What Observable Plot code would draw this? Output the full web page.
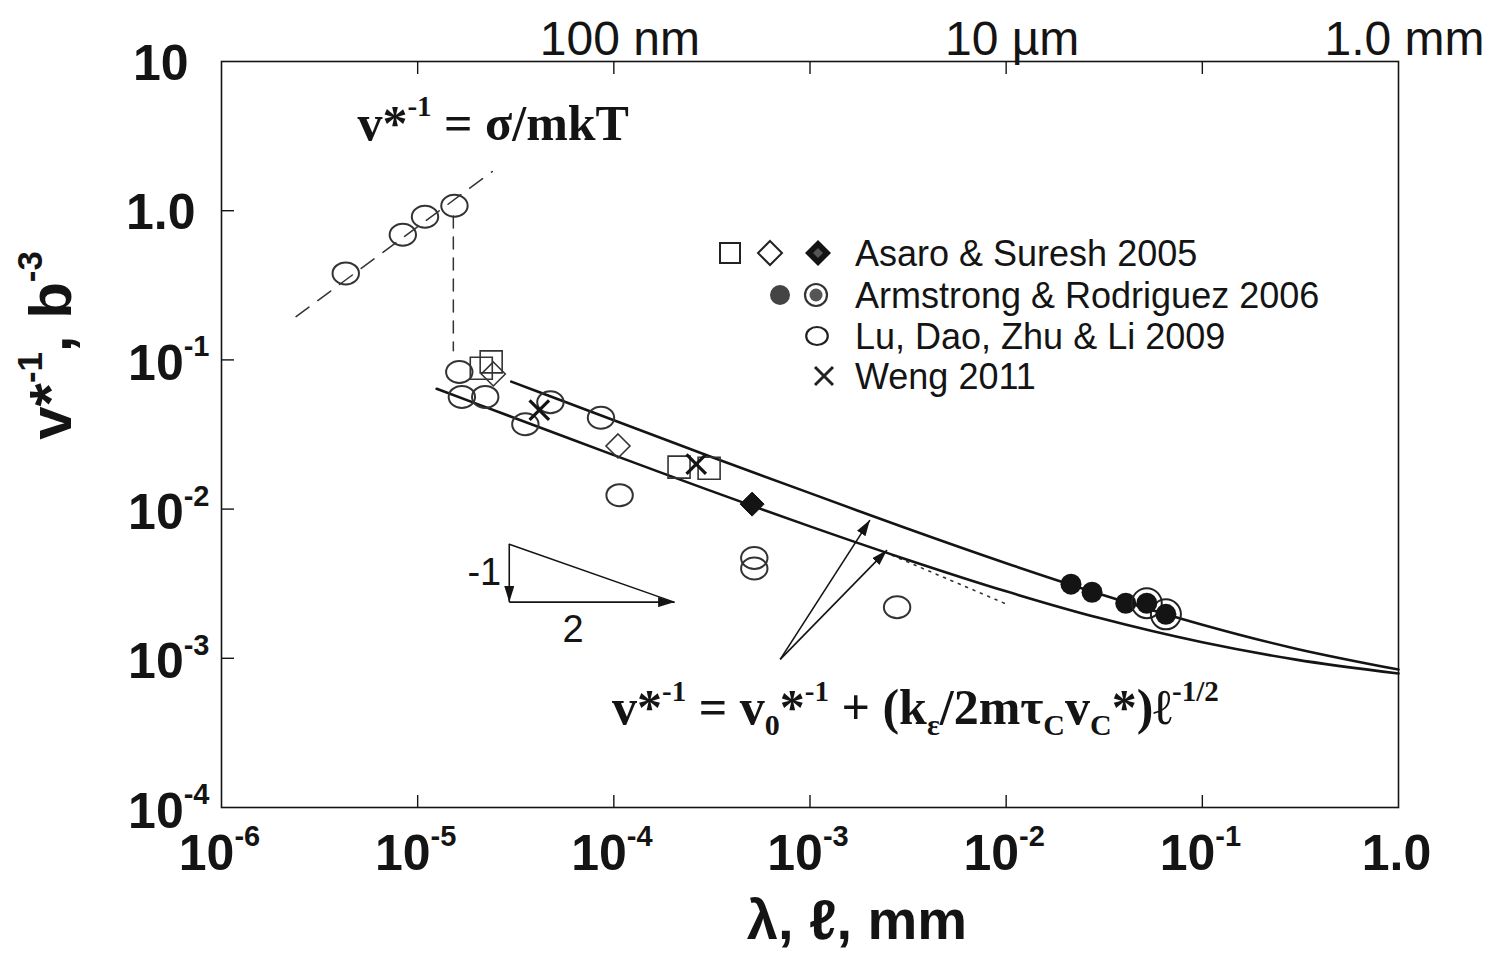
<!DOCTYPE html>
<html><head><meta charset="utf-8">
<script src="https://cdn.jsdelivr.net/npm/d3@7"></script>
<script src="https://cdn.jsdelivr.net/npm/@observablehq/plot@0.6"></script>
<style>html,body{margin:0;padding:0;background:#fff;} #chart{position:relative;width:1497px;height:954px;overflow:hidden;}</style>
</head><body><div id="chart"></div>
<script>
// ---------------- data ----------------
const xTickValues = [1e-6, 1e-5, 1e-4, 1e-3, 1e-2, 1e-1, 1];
const xTickLabels = ["10^{-6}", "10^{-5}", "10^{-4}", "10^{-3}", "10^{-2}", "10^{-1}", "1.0"];
const yTickValues = [10, 1, 1e-1, 1e-2, 1e-3, 1e-4];
const yTickLabels = ["10", "1.0", "10^{-1}", "10^{-2}", "10^{-3}", "10^{-4}"];
const topTickValues = [1e-4, 1e-2, 1];
const topTickLabels = ["100 nm", "10 µm", "1.0 mm"];
const innerTicksX = [1e-5, 1e-4, 1e-3, 1e-2, 1e-1];
const innerTicksY = [1, 1e-1, 1e-2, 1e-3];

// Lu, Dao, Zhu & Li 2009 (open ellipses)
const luX = [4.3e-6, 8.4e-6, 1.09e-5, 1.54e-5, 1.63e-5, 1.68e-5, 2.21e-5, 3.54e-5, 4.75e-5, 8.6e-5, 1.07e-4, 5.2e-4, 5.2e-4, 2.78e-3];
const luY = [0.38, 0.69, 0.91, 1.08, 0.083, 0.0565, 0.0565, 0.037, 0.052, 0.041, 0.0124, 0.0047, 0.0040, 0.0022];
// Asaro & Suresh 2005
const asaroSquareX = [2.11e-5, 2.37e-5, 2.15e-4, 3.06e-4];
const asaroSquareY = [0.088, 0.097, 0.0191, 0.0188];
const asaroDiamondX = [2.43e-5, 1.05e-4];
const asaroDiamondY = [0.0805, 0.0265];
const asaroFilledX = [5.07e-4];
const asaroFilledY = [0.0108];
// Weng 2011
const wengX = [4.17e-5, 2.63e-4];
const wengY = [0.046, 0.020];
// Armstrong & Rodriguez 2006
const armFilledX = [0.0214, 0.0274, 0.0407];
const armFilledY = [0.00314, 0.00277, 0.00234];
const armRingX = [0.0521, 0.0652];
const armRingY = [0.00234, 0.00197];

// model curves
const upperX = [3.0e-5, 5e-5, 1e-4, 3e-4, 1e-3, 3e-3, 1e-2, 3e-2, 1e-1, 3e-1, 1];
const upperY = [0.0715, 0.0555, 0.0394, 0.0229, 0.0128, 0.00756, 0.00434, 0.00270, 0.00168, 0.00116, 0.00084];
const lowerX = [1.25e-5, 3e-5, 1e-4, 3e-4, 1e-3, 3e-3, 1e-2, 3e-2, 1e-1, 3e-1, 1];
const lowerY = [0.0640, 0.0416, 0.0230, 0.0135, 0.00766, 0.00467, 0.00281, 0.00186, 0.00128, 0.00098, 0.00079];
// dashed sigma/mkT line, vertical dashed drop, dotted extension
const riseX = [2.4e-6, 2.4e-5];
const riseY = [0.195, 1.83];
const dropX = [1.52e-5, 1.52e-5];
const dropY = [0.92, 0.115];
const dottedX = [2.62e-3, 1.01e-2];
const dottedY = [4.9e-3, 2.3e-3];
// slope triangle (top, corner, right)
const triX = [2.93e-5, 2.93e-5, 2.03e-4];
const triY = [5.82e-3, 2.38e-3, 2.38e-3];
// leader arrows
const leaderTail = [7.05e-4, 9.84e-4];
const leaderTipX = [2.02e-3, 2.47e-3];
const leaderTipY = [8.44e-3, 5.31e-3];
// annotation texts
const formulaTexts = ["v*^{-1} = σ/mkT", "v*^{-1} = v_{0}*^{-1} + (k_{ε}/2mτ_{C}v_{C}*)ℓ^{-1/2}"];
const formulaX = [4.93e-6, 9.8e-5];
const formulaY = [3.0, 3.6e-4];
const slopeTexts = ["-1", "2"];
const slopeX = [2.93e-5, 6.2e-5];
const slopeY = [3.09e-3, 1.28e-3];
const legendLabels = ["Asaro & Suresh 2005", "Armstrong & Rodriguez 2006", "Lu, Dao, Zhu & Li 2009", "Weng 2011"];

// ---------------- helpers ----------------
const pts = (X, Y) => X.map((x, i) => ({x, y: Y[i]}));
const W = 1497, H = 954, ML = 221, MR = 99, MT = 61, MB = 147;
const FW = W - ML - MR, FH = H - MT - MB;
const SANS = "'Liberation Sans', Arial, sans-serif";
const SERIF = "'Liberation Serif', 'Times New Roman', serif";
const INK = "#141414";

const ellipseSym = {draw(c, size) {
  const r = Math.sqrt(size / Math.PI), rx = r * 1.2, ry = r, k = 0.5523;
  c.moveTo(rx, 0);
  c.bezierCurveTo(rx, ry * k, rx * k, ry, 0, ry);
  c.bezierCurveTo(-rx * k, ry, -rx, ry * k, -rx, 0);
  c.bezierCurveTo(-rx, -ry * k, -rx * k, -ry, 0, -ry);
  c.bezierCurveTo(rx * k, -ry, rx, -ry * k, rx, 0);
  c.closePath();
}};
const squareSym = {draw(c, size) { const r = Math.sqrt(size / Math.PI); c.rect(-r, -r, 2 * r, 2 * r); }};
const diamondSym = {draw(c, size) { const r = Math.sqrt(size / Math.PI); c.moveTo(0, -r); c.lineTo(r, 0); c.lineTo(0, r); c.lineTo(-r, 0); c.closePath(); }};
const crossSym = {draw(c, size) { const r = Math.sqrt(size / Math.PI) * 0.75; c.moveTo(-r, -r); c.lineTo(r, r); c.moveTo(r, -r); c.lineTo(-r, r); }};

const tri = pts(triX, triY);
const arrowSegs = [
  {x1: tri[0].x, y1: tri[0].y, x2: tri[1].x, y2: tri[1].y},
  {x1: tri[1].x, y1: tri[1].y, x2: tri[2].x, y2: tri[2].y},
  ...leaderTipX.map((x, i) => ({x1: leaderTail[0], y1: leaderTail[1], x2: x, y2: leaderTipY[i]}))
];

const tickStyle = {stroke: INK, strokeWidth: 1.4};
const plot = Plot.plot({
  width: W, height: H,
  marginLeft: ML, marginRight: MR, marginTop: MT, marginBottom: MB,
  x: {type: "log", domain: [1e-6, 1], axis: null},
  y: {type: "log", domain: [1e-4, 10], axis: null},
  style: {background: "white", color: INK, fontFamily: SANS},
  marks: [
    Plot.frame({stroke: INK, strokeWidth: 1.6}),
    Plot.tickX(innerTicksX, {x: d => d, insetTop: FH - 12, ...tickStyle}),
    Plot.tickX(innerTicksX, {x: d => d, insetBottom: FH - 13, ...tickStyle}),
    Plot.tickY(innerTicksY, {y: d => d, insetRight: FW - 13, ...tickStyle}),
    // bottom tick labels
    Plot.text(xTickValues, {x: d => d, text: (d, i) => xTickLabels[i], frameAnchor: "bottom", lineAnchor: "bottom", dy: 62, dx: -2,
      textAnchor: "middle", fontFamily: SANS, fontWeight: "bold", fontSize: 50, fill: INK}),
    // left tick labels
    Plot.text(yTickValues, {y: d => d, text: (d, i) => yTickLabels[i], filter: (d, i) => yTickLabels[i].includes("^"),
      frameAnchor: "left", lineAnchor: "bottom", dy: 20, dx: -12, textAnchor: "end", fontFamily: SANS, fontWeight: "bold", fontSize: 50, fill: INK}),
    Plot.text(yTickValues, {y: d => d, text: (d, i) => yTickLabels[i], filter: (d, i) => yTickLabels[i] === "10",
      frameAnchor: "left", lineAnchor: "bottom", dy: 18, dx: -33, textAnchor: "end", fontFamily: SANS, fontWeight: "bold", fontSize: 50, fill: INK}),
    Plot.text(yTickValues, {y: d => d, text: (d, i) => yTickLabels[i], filter: (d, i) => yTickLabels[i] === "1.0",
      frameAnchor: "left", lineAnchor: "bottom", dy: 18, dx: -26, textAnchor: "end", fontFamily: SANS, fontWeight: "bold", fontSize: 50, fill: INK}),
    // top unit labels
    Plot.text(topTickValues, {x: d => d, text: (d, i) => topTickLabels[i], frameAnchor: "top", lineAnchor: "bottom", dy: -7, dx: 6,
      textAnchor: "middle", fontFamily: SANS, fontSize: 48, fill: INK}),
    // axis titles
    Plot.text(["λ, ℓ, mm"], {frameAnchor: "bottom", lineAnchor: "bottom", dy: 131, dx: 47, textAnchor: "middle",
      fontFamily: SANS, fontWeight: "bold", fontSize: 56, fill: INK}),
    Plot.text(["v*^{-1}, b^{-3}"], {frameAnchor: "left", rotate: -90, lineAnchor: "bottom", dx: -151, dy: -89, textAnchor: "middle",
      fontFamily: SANS, fontWeight: "bold", fontSize: 60, fill: INK}),
    // guide lines
    Plot.line(pts(riseX, riseY), {x: "x", y: "y", stroke: "#333", strokeWidth: 1.5, strokeDasharray: "16,11"}),
    Plot.line(pts(dropX, dropY), {x: "x", y: "y", stroke: "#333", strokeWidth: 1.5, strokeDasharray: "12,9"}),
    Plot.line(pts(dottedX, dottedY), {x: "x", y: "y", stroke: "#333", strokeWidth: 1.6, strokeDasharray: "2,6"}),
    Plot.line(pts(upperX, upperY), {x: "x", y: "y", curve: "catmull-rom", stroke: INK, strokeWidth: 2.6}),
    Plot.line(pts(lowerX, lowerY), {x: "x", y: "y", curve: "catmull-rom", stroke: INK, strokeWidth: 2.6}),
    Plot.line([tri[0], tri[2]], {x: "x", y: "y", stroke: INK, strokeWidth: 1.5}),
    Plot.link(arrowSegs, {x1: "x1", y1: "y1", x2: "x2", y2: "y2", stroke: INK, strokeWidth: 1.6}),
    // data
    Plot.dot(pts(luX, luY), {x: "x", y: "y", symbol: ellipseSym, r: 11, fill: "none", stroke: "#333", strokeWidth: 2}),
    Plot.dot(pts(asaroSquareX, asaroSquareY), {x: "x", y: "y", symbol: squareSym, r: 11, fill: "none", stroke: "#333", strokeWidth: 1.6}),
    Plot.dot(pts(asaroDiamondX, asaroDiamondY), {x: "x", y: "y", symbol: diamondSym, r: 12, fill: "none", stroke: "#333", strokeWidth: 1.6}),
    Plot.dot(pts(asaroFilledX, asaroFilledY), {x: "x", y: "y", symbol: diamondSym, r: 12, fill: INK, stroke: INK, strokeWidth: 1}),
    Plot.dot(pts(wengX, wengY), {x: "x", y: "y", symbol: crossSym, r: 13, fill: "none", stroke: INK, strokeWidth: 3.2}),
    Plot.dot(pts(armFilledX, armFilledY), {x: "x", y: "y", r: 10.5, fill: INK}),
    Plot.dot(pts(armRingX, armRingY), {x: "x", y: "y", r: 15, fill: "none", stroke: "#222", strokeWidth: 2}),
    Plot.dot(pts(armRingX, armRingY), {x: "x", y: "y", r: 10.5, fill: INK}),
    // annotations
    Plot.text(formulaX.map((x, i) => ({x, y: formulaY[i], t: formulaTexts[i]})), {x: "x", y: "y", text: "t", lineAnchor: "bottom",
      textAnchor: "start", fontFamily: SERIF, fontWeight: "bold", fontSize: 50, fill: INK}),
    Plot.text(slopeX.map((x, i) => ({x, y: slopeY[i], t: slopeTexts[i]})), {x: "x", y: "y", text: "t", lineAnchor: "bottom",
      textAnchor: "middle", dx: 0, fontFamily: SANS, fontSize: 38, fill: INK})
  ]
});
document.getElementById("chart").appendChild(plot);

// ---------------- rich text (super/subscripts) ----------------
d3.select(plot).selectAll("text").each(function () {
  const t = this.textContent;
  if (!/[\^_]\{/.test(t)) return;
  const fs = parseFloat(getComputedStyle(this).fontSize) || 40;
  const re = /([\^_])\{([^}]*)\}/g;
  const parts = []; let last = 0, m;
  while ((m = re.exec(t))) {
    if (m.index > last) parts.push({k: "n", s: t.slice(last, m.index)});
    parts.push({k: m[1], s: m[2]});
    last = re.lastIndex;
  }
  if (last < t.length) parts.push({k: "n", s: t.slice(last)});
  this.textContent = "";
  let shift = 0;
  for (const p of parts) {
    const ts = d3.select(this).append("tspan").text(p.s);
    let target = 0;
    if (p.k === "^") { target = -0.47 * fs; ts.attr("font-size", 0.58 * fs); }
    else if (p.k === "_") { target = 0.22 * fs; ts.attr("font-size", 0.6 * fs); }
    const d = target - shift;
    if (d) ts.attr("dy", d);
    shift = target;
  }
});
// "-1" of the slope triangle sits to the left of the vertical arrow
d3.select(plot).selectAll("text").filter(function () { return this.textContent === "-1"; })
  .attr("text-anchor", "end").attr("transform", function () { return (this.getAttribute("transform") || "") + " translate(-8,0)"; });

// ---------------- filled arrowheads ----------------
const svg = d3.select(plot);
const defs = svg.append("defs");
defs.append("marker").attr("id", "ah").attr("viewBox", "0 0 16 10").attr("refX", 16).attr("refY", 5)
  .attr("markerWidth", 16).attr("markerHeight", 10).attr("markerUnits", "userSpaceOnUse").attr("orient", "auto")
  .append("path").attr("d", "M0,0L16,5L0,10Z").attr("fill", INK);
svg.selectAll('g[aria-label="link"] path').attr("marker-end", "url(#ah)");

// ---------------- legend ----------------
const lg = svg.append("g").attr("font-family", SANS).attr("font-size", 36).attr("fill", INK).attr("text-anchor", "start");
const rowY = [253, 295, 336, 376];
const sym = (type, r) => d3.symbol().type(type).size(Math.PI * r * r)();
legendLabels.forEach((lab, i) => {
  lg.append("text").attr("x", 855).attr("y", rowY[i] + 13).attr("text-anchor", "start").text(lab);
});
lg.append("path").attr("transform", `translate(730,${rowY[0]})`).attr("d", sym(squareSym, 10)).attr("fill", "none").attr("stroke", "#222").attr("stroke-width", 2);
lg.append("path").attr("transform", `translate(770,${rowY[0]})`).attr("d", sym(diamondSym, 12)).attr("fill", "none").attr("stroke", "#222").attr("stroke-width", 2);
lg.append("path").attr("transform", `translate(818,${rowY[0]})`).attr("d", sym(diamondSym, 13)).attr("fill", INK);
lg.append("path").attr("transform", `translate(818,${rowY[0]})`).attr("d", sym(diamondSym, 5)).attr("fill", "#555");
lg.append("circle").attr("cx", 780).attr("cy", rowY[1]).attr("r", 10).attr("fill", "#444");
lg.append("circle").attr("cx", 816).attr("cy", rowY[1]).attr("r", 11).attr("fill", "none").attr("stroke", "#333").attr("stroke-width", 2.2);
lg.append("circle").attr("cx", 816).attr("cy", rowY[1]).attr("r", 6.5).attr("fill", "#555");
lg.append("path").attr("transform", `translate(817,${rowY[2]})`).attr("d", sym(ellipseSym, 9)).attr("fill", "none").attr("stroke", "#222").attr("stroke-width", 2.2);
lg.append("path").attr("transform", `translate(824,${rowY[3]})`).attr("d", sym(crossSym, 12)).attr("fill", "none").attr("stroke", "#222").attr("stroke-width", 3);
</script></body></html>
